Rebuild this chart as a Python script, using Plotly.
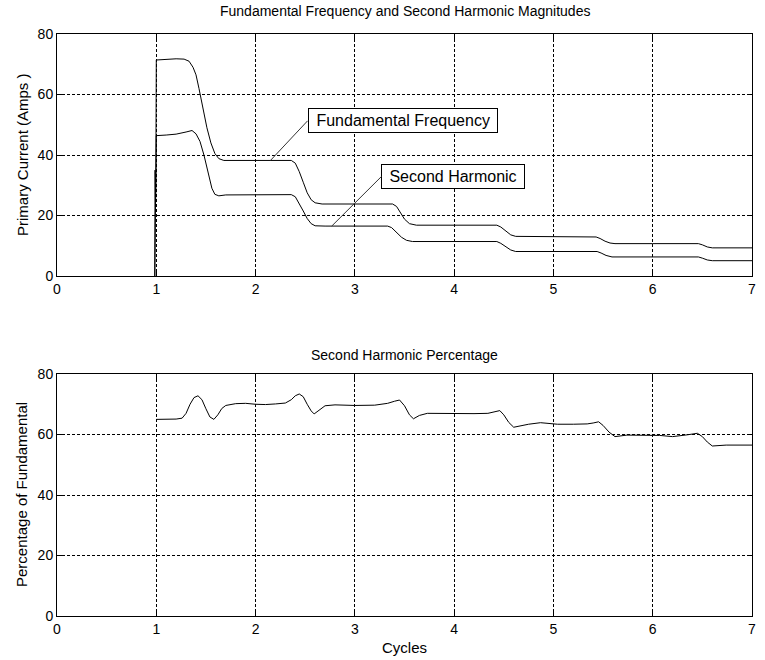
import plotly.graph_objects as go

# ---- data ----
fund_x = [0.985, 0.988, 0.992, 0.996, 1.0, 1.1, 1.2, 1.28, 1.33, 1.37, 1.40, 1.43, 1.47, 1.51,
          1.55, 1.59, 1.63, 1.68, 2.0, 2.36, 2.40, 2.44, 2.48, 2.52, 2.56, 2.60, 2.67, 3.0, 3.38,
          3.42, 3.46, 3.50, 3.55, 3.62, 4.0, 4.43, 4.47, 4.52, 4.57, 4.62, 5.0, 5.43, 5.47, 5.52,
          5.57, 5.62, 6.0, 6.46, 6.50, 6.55, 6.6, 7.0]
fund_y = [0, 30, 24, 36, 71.4, 71.6, 71.8, 71.7, 71.0, 69.0, 66.5, 62, 55, 49,
          44, 40.5, 38.8, 38.2, 38.2, 38.2, 37.3, 34.5, 31, 27.5, 25.2, 24.2, 23.8, 23.8, 23.8,
          23.0, 21.0, 18.8, 17.3, 16.8, 16.8, 16.8, 16.2, 14.8, 13.6, 13.1, 13.0, 12.9, 12.4, 11.5,
          10.9, 10.7, 10.7, 10.7, 10.3, 9.6, 9.3, 9.3]

harm_x = [0.985, 0.988, 0.992, 0.996, 1.0, 1.1, 1.2, 1.3, 1.36, 1.40, 1.44, 1.48, 1.52, 1.56,
          1.59, 1.63, 1.7, 2.0, 2.36, 2.40, 2.44, 2.48, 2.52, 2.56, 2.60, 2.7, 3.0, 3.33, 3.37,
          3.42, 3.47, 3.52, 3.58, 4.0, 4.43, 4.47, 4.52, 4.57, 4.62, 5.0, 5.44, 5.48, 5.53, 5.59,
          6.0, 6.46, 6.50, 6.55, 6.6, 7.0]
harm_y = [0, 35, 23, 30, 46.4, 46.6, 46.9, 47.6, 48.1, 47.0, 44.5, 40, 34, 29,
          27, 26.5, 26.8, 26.9, 26.9, 26.2, 24, 21.5, 19, 17.3, 16.6, 16.5, 16.5, 16.5, 16.0,
          14.5, 12.8, 11.8, 11.4, 11.4, 11.4, 10.8, 9.6, 8.6, 8.1, 8.1, 8.1, 7.6, 6.8, 6.3,
          6.3, 6.3, 5.9, 5.3, 5.06, 5.06]

pct_x = [1.0, 1.1, 1.2, 1.26, 1.30, 1.34, 1.38, 1.42, 1.46, 1.50, 1.54, 1.58, 1.62, 1.66, 1.70,
         1.8, 1.9, 2.0, 2.1, 2.2, 2.3, 2.36, 2.40, 2.44, 2.48, 2.52, 2.56, 2.59, 2.64, 2.70,
         2.8, 3.0, 3.2, 3.33, 3.40, 3.45, 3.50, 3.55, 3.59, 3.65, 3.73, 4.0, 4.2, 4.34, 4.40,
         4.46, 4.50, 4.55, 4.60, 4.68, 4.75, 4.87, 5.04, 5.2, 5.34, 5.40, 5.455, 5.50, 5.56, 5.62,
         5.74, 6.07, 6.2, 6.35, 6.45, 6.50, 6.55, 6.6, 6.74, 7.0]
pct_y = [65.0, 65.0, 65.1, 65.4, 67.0, 70, 72.2, 72.8, 71.5, 68.5, 65.8, 65.0, 66.5, 68.6, 69.6,
         70.2, 70.3, 70.0, 69.9, 70.1, 70.4, 71.5, 72.8, 73.4, 72.5, 70.0, 67.8, 66.8, 68.0, 69.5,
         69.8, 69.6, 69.7, 70.3, 71.0, 71.4, 69.5, 66.5, 65.2, 66.3, 67.0, 66.8, 66.9, 67.0, 67.4,
         67.9, 66.5, 64.0, 62.4, 63.0, 63.4, 63.9, 63.4, 63.4, 63.5, 63.8, 64.2, 63.0, 60.8, 59.3,
         59.8, 59.7, 59.3, 59.9, 60.4, 59.3, 57.5, 56.2, 56.5, 56.5]

x_ticks = [0, 1, 2, 3, 4, 5, 6, 7]
y_ticks = [0, 20, 40, 60, 80]

# callouts: (text, head x, head y, box x, box y)
callouts = [("Fundamental Frequency", 2.15, 38.2, 2.524, 51.3),
            ("Second Harmonic", 2.767, 16.5, 3.268, 32.9)]

top_title = "Fundamental Frequency and Second Harmonic Magnitudes"
bot_title = "Second Harmonic Percentage"
top_ylabel = "Primary Current (Amps )"
bot_ylabel = "Percentage of Fundamental"
xlabel = "Cycles"

FONT = "Liberation Sans, Arial, sans-serif"

fig = go.Figure()
line = dict(color="black", width=1)
fig.add_trace(go.Scatter(x=fund_x, y=fund_y, mode="lines", line=line, xaxis="x", yaxis="y",
                         showlegend=False, hoverinfo="skip"))
fig.add_trace(go.Scatter(x=harm_x, y=harm_y, mode="lines", line=line, xaxis="x", yaxis="y",
                         showlegend=False, hoverinfo="skip"))
fig.add_trace(go.Scatter(x=pct_x, y=pct_y, mode="lines", line=line, xaxis="x2", yaxis="y2",
                         showlegend=False, hoverinfo="skip"))

H = 660
mt, mb = 34, 44
ph = H - mt - mb
top_dom = [1 - 242 / ph, 1]
bot_dom = [0, 242 / ph]

ax_common = dict(showline=True, linecolor="black", linewidth=1, mirror="ticks",
                 ticks="inside", ticklen=5, tickcolor="black", zeroline=False,
                 showgrid=True, gridcolor="black", gridwidth=1, griddash="3px,2px",
                 tickfont=dict(family=FONT, size=14, color="black"))

fig.update_layout(
    width=765, height=660,
    margin=dict(l=57, r=9, t=mt, b=mb),
    paper_bgcolor="white", plot_bgcolor="white",
    font=dict(family=FONT, size=14, color="black"),
    xaxis=dict(domain=[0, 1], range=[0, 7], tickvals=x_ticks, anchor="y", **ax_common),
    yaxis=dict(domain=top_dom, range=[0, 80], tickvals=y_ticks, anchor="x", **ax_common),
    xaxis2=dict(domain=[0, 1], range=[0, 7], tickvals=x_ticks, anchor="y2", **ax_common),
    yaxis2=dict(domain=bot_dom, range=[0, 80], tickvals=y_ticks, anchor="x2", **ax_common),
)

ann = []
for text, hx, hy, bx, by in callouts:
    ann.append(dict(text="\u00a0" + text + "\u00a0", x=hx, y=hy, xref="x", yref="y",
                    ax=bx, ay=by, axref="x", ayref="y", xanchor="left", yanchor="middle",
                    showarrow=True, arrowhead=0, arrowwidth=1, arrowcolor="#333",
                    bordercolor="black", borderwidth=1, borderpad=3, bgcolor="white",
                    font=dict(family=FONT, size=16, color="black")))
ann.append(dict(text=top_title, x=0.5, y=1, xref="x domain", yref="y domain",
                xanchor="center", yanchor="middle", yshift=23, showarrow=False,
                font=dict(family=FONT, size=14)))
ann.append(dict(text=bot_title, x=0.5, y=1, xref="x2 domain", yref="y2 domain",
                xanchor="center", yanchor="middle", yshift=19, showarrow=False,
                font=dict(family=FONT, size=14)))
ann.append(dict(text=top_ylabel, x=0, y=0.5, xref="x domain", yref="y domain",
                xanchor="center", yanchor="middle", xshift=-35, textangle=-90, showarrow=False,
                font=dict(family=FONT, size=15)))
ann.append(dict(text=bot_ylabel, x=0, y=0.5, xref="x2 domain", yref="y2 domain",
                xanchor="center", yanchor="middle", xshift=-35, textangle=-90, showarrow=False,
                font=dict(family=FONT, size=15)))
ann.append(dict(text=xlabel, x=0.5, y=0, xref="x2 domain", yref="y2 domain",
                xanchor="center", yanchor="middle", yshift=-31, showarrow=False,
                font=dict(family=FONT, size=15)))
fig.update_layout(annotations=ann)

fig.write_html("out.html")
